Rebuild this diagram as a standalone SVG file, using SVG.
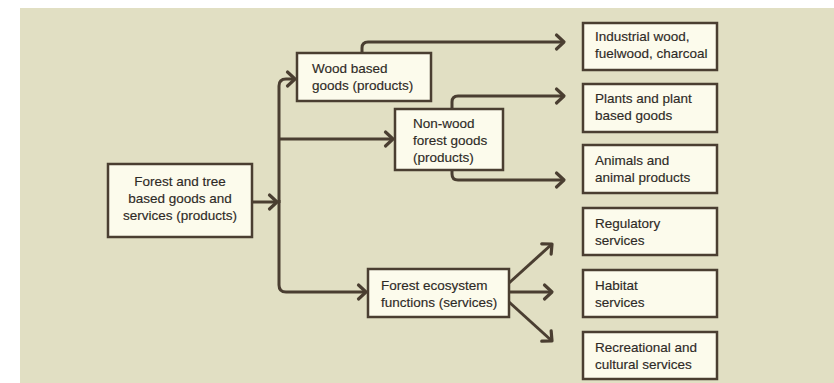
<svg xmlns="http://www.w3.org/2000/svg" width="834" height="383" viewBox="0 0 834 383">
  <style>
    .box { fill: #fcfbec; stroke: #4a3e31; stroke-width: 2.5; }
    .lbl { font-family: "Liberation Sans", Arial, sans-serif; font-size: 13.5px; fill: #2e2a26; stroke: #2e2a26; stroke-width: 0.15; }
    .lbl-c { text-anchor: middle; }
    .conn { fill: none; stroke: #4a3e31; stroke-width: 3; stroke-linecap: butt; stroke-linejoin: round; }
  </style>
  <defs>
    <marker id="chev" markerUnits="userSpaceOnUse" viewBox="-10 -8 12 16" refX="0" refY="0" markerWidth="12" markerHeight="16" orient="auto" overflow="visible">
      <path d="M-7.5,-7 L0,0 L-7.5,7" fill="none" stroke="#4a3e31" stroke-width="3.2" stroke-linecap="round" stroke-linejoin="round"/>
    </marker>
  </defs>

  <!-- panel background -->
  <rect x="20" y="8" width="814" height="375" fill="#e1dfc3"/>

  <!-- connectors -->
  <g id="connectors">
    <path class="conn" d="M253,202 H277" marker-end="url(#chev)"/>
    <path class="conn" d="M279,203 V86 Q279,79 286,79 H295" marker-end="url(#chev)"/>
    <path class="conn" d="M279,139 H393" marker-end="url(#chev)"/>
    <path class="conn" d="M279,200 V285 Q279,292 286,292 H366" marker-end="url(#chev)"/>
    <path class="conn" d="M362,53 V48 Q362,42 368,42 H564" marker-end="url(#chev)"/>
    <path class="conn" d="M452,109 V102 Q452,96 458,96 H564" marker-end="url(#chev)"/>
    <path class="conn" d="M452,170 V174 Q452,180 458,180 H564" marker-end="url(#chev)"/>
    <path class="conn" d="M509,283 L552,244" marker-end="url(#chev)"/>
    <path class="conn" d="M509,292 H552" marker-end="url(#chev)"/>
    <path class="conn" d="M509,302 L552,341" marker-end="url(#chev)"/>
  </g>

  <g id="forest-tree-goods">
    <rect class="box" x="108" y="164" width="144" height="73"/>
    <text class="lbl lbl-c" x="180" y="186">Forest and tree</text>
    <text class="lbl lbl-c" x="180" y="203">based goods and</text>
    <text class="lbl lbl-c" x="180" y="220">services (products)</text>
  </g>

  <g id="wood-goods">
    <rect class="box" x="297" y="53" width="134" height="48"/>
    <text class="lbl" x="312" y="73">Wood based</text>
    <text class="lbl" x="312" y="90">goods (products)</text>
  </g>

  <g id="non-wood-goods">
    <rect class="box" x="395" y="109" width="108" height="61"/>
    <text class="lbl" x="413" y="128">Non-wood</text>
    <text class="lbl" x="413" y="145">forest goods</text>
    <text class="lbl" x="413" y="162">(products)</text>
  </g>

  <g id="ecosystem-functions">
    <rect class="box" x="368" y="269" width="141" height="48"/>
    <text class="lbl" x="381" y="290">Forest ecosystem</text>
    <text class="lbl" x="381" y="307">functions (services)</text>
  </g>

  <g id="industrial-wood">
    <rect class="box" x="583" y="23" width="134" height="47"/>
    <text class="lbl" x="595" y="41">Industrial wood,</text>
    <text class="lbl" x="595" y="58">fuelwood, charcoal</text>
  </g>

  <g id="plants">
    <rect class="box" x="583" y="84" width="134" height="48"/>
    <text class="lbl" x="595" y="103">Plants and plant</text>
    <text class="lbl" x="595" y="120">based goods</text>
  </g>

  <g id="animals">
    <rect class="box" x="583" y="145" width="134" height="48"/>
    <text class="lbl" x="595" y="165">Animals and</text>
    <text class="lbl" x="595" y="182">animal products</text>
  </g>

  <g id="regulatory">
    <rect class="box" x="583" y="208" width="134" height="47"/>
    <text class="lbl" x="595" y="228">Regulatory</text>
    <text class="lbl" x="595" y="245">services</text>
  </g>

  <g id="habitat">
    <rect class="box" x="583" y="270" width="134" height="47"/>
    <text class="lbl" x="595" y="290">Habitat</text>
    <text class="lbl" x="595" y="307">services</text>
  </g>

  <g id="recreational">
    <rect class="box" x="583" y="332" width="134" height="47"/>
    <text class="lbl" x="595" y="352">Recreational and</text>
    <text class="lbl" x="595" y="369">cultural services</text>
  </g>
</svg>
